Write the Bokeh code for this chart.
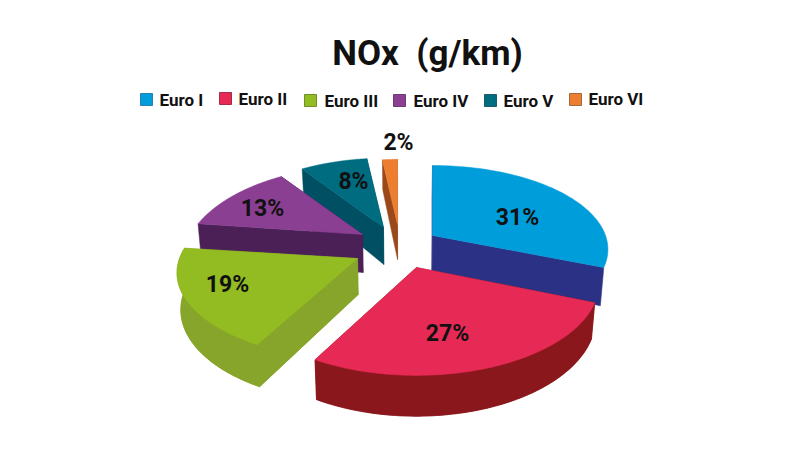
import numpy as np
from bokeh.plotting import figure
from bokeh.embed import file_html
from bokeh.resources import INLINE
from bokeh.core.properties import value

# ---- data ----
title_text = "NOx\u00a0\u00a0(g/km)"
categories = ["Euro I", "Euro II", "Euro III", "Euro IV", "Euro V", "Euro VI"]
shares = [31, 27, 19, 13, 8, 2]

# ---- styles ----
top_colors = ["#009DDB", "#E72A55", "#92BC22", "#8B3F93", "#006C80", "#EE7E2F"]
side_colors = ["#2B3285", "#8A171B", "#87A52A", "#4B2056", "#004F63", "#9A4A1A"]
legend_edges = ["#2A7FB0", "#A82A4A", "#6F8F2A", "#6A3A72", "#1F5A68", "#A06A40"]
FONT = "Roboto"

# ---- layout (pixels of the page image) ----
apex_x = [432, 416, 357, 362, 383, 397]
apex_y = [235, 267, 258, 234, 227, 224]
radius_x = [173, 180, 178, 172, 172, 140]
radius_y = [81.6, 90, 84, 89, 90, 76]
persp = [0.166, 0.166, 0.166, 0.3, 0.3, 0.166]
depth = [36, 34, 36, 38, 37, 35]
outer_wall = [False, True, True, False, False, False]
label_x = [517, 447, 227, 262, 353, 398]
label_y = [217, 333, 284, 208, 181, 142]
legend_box_x = [140, 219, 304, 393, 484, 569]
legend_box_y = [93, 92, 94, 94, 94, 93]
legend_text_x = [159, 238, 324, 413, 503, 588]
legend_text_y = [99, 98, 100, 100, 100, 98]
draw_order = [5, 4, 3, 0, 1, 2]
VANISH_X = 400
SHRINK = 0.017

p = figure(width=784, height=434, x_range=(0, 784), y_range=(434, 0),
           output_backend="svg", toolbar_location=None, min_border=0,
           outline_line_color=None, background_fill_color="white",
           border_fill_color="white")
p.axis.visible = False
p.grid.visible = False


def project(i, t):
    """Point of the pie rim (t in radians, clockwise from 12 o'clock) in perspective."""
    X, Y = np.sin(t), np.cos(t)
    w = 1 + persp[i] * Y
    return apex_x[i] + radius_x[i] * X / w, apex_y[i] - radius_y[i] * Y / w, w


def lower(i, x, y, w):
    return x + (VANISH_X - x) * SHRINK, y + depth[i] / w


cum = np.cumsum([0] + shares) / sum(shares) * 2 * np.pi

xs, ys, fills = [], [], []


def add(px, py, color):
    xs.append(list(px))
    ys.append(list(py))
    fills.append(color)


for i in draw_order:
    t = np.linspace(cum[i], cum[i + 1], 80)
    x, y, w = project(i, t)
    ax, ay = float(apex_x[i]), float(apex_y[i])
    bx, by = lower(i, x, y, w)
    bax, bay = lower(i, ax, ay, 1.0)
    side = side_colors[i]
    if outer_wall[i]:
        add(np.r_[bax, bx], np.r_[bay, by], side)
        add(np.r_[x, bx[::-1]], np.r_[y, by[::-1]], side)
    add([ax, x[0], bx[0], bax], [ay, y[0], by[0], bay], side)
    add([ax, x[-1], bx[-1], bax], [ay, y[-1], by[-1], bay], side)
    add(np.r_[ax, x], np.r_[ay, y], top_colors[i])

p.patches(xs, ys, fill_color=fills, line_color=fills, line_width=0.5)

p.text([427], [53], text=[title_text], text_font=value(FONT), text_font_style="bold",
       text_font_size="35px", text_color="#111111", text_align="center",
       text_baseline="middle")

p.text(label_x, label_y, text=[f"{v}%" for v in shares], text_font=value(FONT),
       text_font_style="bold", text_font_size="23px", text_color="#111111",
       text_align="center", text_baseline="middle")

box = 12
p.quad(left=legend_box_x, right=[v + box for v in legend_box_x],
       top=legend_box_y, bottom=[v + box for v in legend_box_y],
       fill_color=top_colors, line_color=legend_edges, line_width=1)
p.text(legend_text_x, legend_text_y, text=categories, text_font=value(FONT),
       text_font_style="bold", text_font_size="17px", text_color="#111111",
       text_align="left", text_baseline="middle")

open("out.html", "w").write(file_html(p, INLINE))
